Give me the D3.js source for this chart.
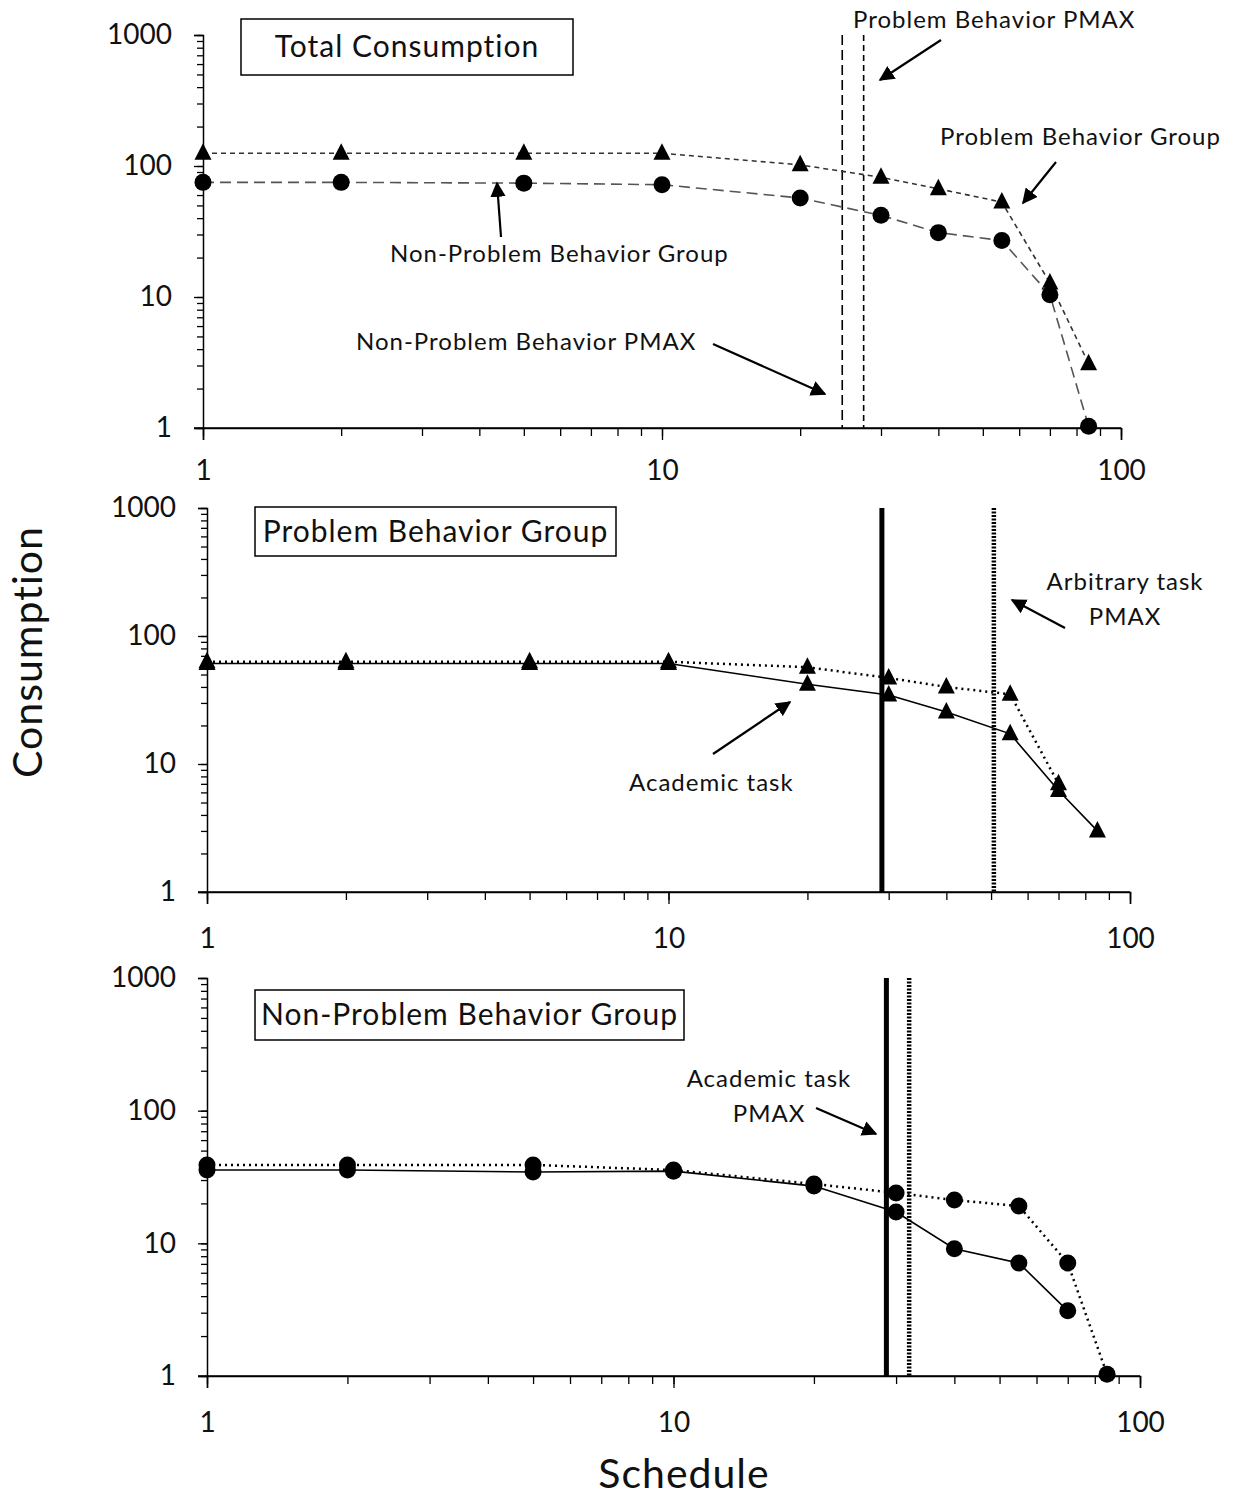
<!DOCTYPE html>
<html>
<head>
<meta charset="utf-8">
<script src="https://cdn.jsdelivr.net/npm/d3@7"></script>
<style>
  body { margin: 0; background: #fff; }
  svg text { font-family: Lato, "Open Sans", sans-serif; fill: #111; }
  .tick-label { font-size: 28px; }
  .ann { font-size: 24px; letter-spacing: 1px; }
  .boxtitle { font-size: 30px; letter-spacing: 1px; }
  .axistitle { font-size: 41px; letter-spacing: 1px; }
</style>
</head>
<body>
<svg id="chart" width="1236" height="1500"></svg>
<script>
// schedule values (x)
const schedule = [1, 2, 5, 10, 20, 30, 40, 55, 70, 85];

// Total consumption panel
const totalProblem    = [125, 125, 125, 125, 102, 82, 67, 53, 12.8, 3.1];
const totalNonProblem = [75, 75, 74, 72, 57, 42, 31, 27, 10.4, 1.03];
const totalPmax = { nonProblem: 24.7, problem: 27.5 };

// Problem behavior group panel
const probAcademic  = [61, 61, 61, 61, 42, 34.6, 25.5, 17.2, 6.2, 3.0];
const probArbitrary = [63, 63, 63, 63, 57, 47, 40, 35, 7.0, null];
const probPmax = { academic: 29, arbitrary: 50.7 };

// Non-problem behavior group panel
const nonAcademic  = [35.7, 35.7, 34.5, 35, 27, 17.2, 9.1, 7.1, 3.1, null];
const nonArbitrary = [39, 39, 39, 35.7, 28, 24, 21.2, 19.1, 7.1, 1.03];
const nonPmax = { academic: 28.6, arbitrary: 32 };

const yTicks = [1, 10, 100, 1000];
const xTicks = [1, 10, 100];

const svg = d3.select("#chart");

// arrow head marker
svg.append("defs").append("marker")
    .attr("id", "arrow").attr("viewBox", "0 0 10 10")
    .attr("refX", 9).attr("refY", 5)
    .attr("markerWidth", 7).attr("markerHeight", 7)
    .attr("markerUnits", "strokeWidth")
    .attr("orient", "auto")
    .append("path").attr("d", "M0,0 L10,5 L0,10 z").attr("fill", "#000");

function minorTicks(lo, hi){
    let t = [];
    for(let d = lo; d < hi; d *= 10){
        for(let k = 1; k < 10; k++) t.push(d*k);
    }
    t.push(hi);
    return t;
}

function drawPanel(p){
    let g = svg.append("g");
    let xScale = d3.scaleLog().domain([1, 100]).range([p.left, p.right]);
    let yScale = d3.scaleLog().domain([1, 1000]).range([p.bottom, p.top]);

    // y axis: minor ticks, then major ticks with labels
    g.append("g").attr("transform", `translate(${p.left},0)`)
        .call(d3.axisLeft(yScale).tickValues(minorTicks(1, 1000)).tickSize(6).tickFormat(""))
        .call(a => a.select(".domain").remove());
    let ya = g.append("g").attr("transform", `translate(${p.left},0)`)
        .call(d3.axisLeft(yScale).tickValues(yTicks).tickSize(9).tickPadding(22).tickFormat(d3.format("d")));
    ya.selectAll("text").attr("class", "tick-label").attr("font-size", null).attr("font-family", null);

    // x axis
    g.append("g").attr("transform", `translate(0,${p.bottom})`)
        .call(d3.axisBottom(xScale).tickValues(minorTicks(1, 100)).tickSize(8).tickFormat(""))
        .call(a => a.select(".domain").remove());
    let xa = g.append("g").attr("transform", `translate(0,${p.bottom})`)
        .call(d3.axisBottom(xScale).tickValues(xTicks).tickSize(12).tickPadding(p.xpad).tickFormat(d3.format("d")));
    xa.selectAll("text").attr("class", "tick-label").attr("font-size", null).attr("font-family", null);
    // x axis line extends a bit left of y axis
    g.append("line").attr("x1", p.left - 9).attr("x2", p.right)
        .attr("y1", p.bottom).attr("y2", p.bottom).attr("stroke", "#000").attr("stroke-width", 1.5);
    g.selectAll(".domain").attr("stroke-width", 1.5);
    g.selectAll(".tick line").attr("stroke-width", 1.3);

    // vertical PMAX lines
    p.vlines.forEach(v => {
        g.append("line").attr("x1", xScale(v.x)).attr("x2", xScale(v.x))
            .attr("y1", p.top).attr("y2", p.bottom)
            .attr("stroke", "#000").attr("stroke-width", v.width)
            .attr("stroke-dasharray", v.dash);
    });

    // series lines + markers
    p.series.forEach(s => {
        let pts = schedule.map((x, i) => ({x: x, y: s.values[i]})).filter(d => d.y != null);
        let line = d3.line().x(d => xScale(d.x)).y(d => yScale(d.y));
        g.append("path").attr("d", line(pts)).attr("fill", "none")
            .attr("stroke", s.color).attr("stroke-width", s.width)
            .attr("stroke-dasharray", s.dash);
        if(s.shape === "circle"){
            g.selectAll(null).data(pts).join("circle")
                .attr("cx", d => xScale(d.x)).attr("cy", d => yScale(d.y))
                .attr("r", 8.5).attr("fill", "#000");
        }else{
            g.selectAll(null).data(pts).join("path")
                .attr("transform", d => `translate(${xScale(d.x)},${yScale(d.y)})`)
                .attr("d", "M0,-10 L8.5,6.5 L-8.5,6.5 Z").attr("fill", "#000");
        }
    });

    // title box
    g.append("rect").attr("x", p.box[0]).attr("y", p.box[1])
        .attr("width", p.box[2]).attr("height", p.box[3])
        .attr("fill", "#fff").attr("stroke", "#000").attr("stroke-width", 1.5);
    g.append("text").attr("class", "boxtitle")
        .attr("x", p.box[0] + p.box[2]/2).attr("y", p.box[1] + p.box[3]/2 + 10)
        .attr("text-anchor", "middle").text(p.title);

    // annotations
    p.notes.forEach(n => {
        n.lines.forEach((t, i) => {
            g.append("text").attr("class", "ann").attr("x", n.x).attr("y", n.y + i*35)
                .attr("text-anchor", n.anchor || "start").text(t);
        });
    });
    p.arrows.forEach(a => {
        g.append("line").attr("x1", a[0]).attr("y1", a[1]).attr("x2", a[2]).attr("y2", a[3])
            .attr("stroke", "#000").attr("stroke-width", 2.2).attr("marker-end", "url(#arrow)");
    });
}

drawPanel({
    left: 203, right: 1121, top: 35, bottom: 428, xpad: 20,
    title: "Total Consumption", box: [241, 19, 332, 56],
    vlines: [
        {x: totalPmax.nonProblem, dash: "10,5", width: 1.6},
        {x: totalPmax.problem, dash: "6,4", width: 1.6}
    ],
    series: [
        {values: totalProblem, shape: "triangle", color: "#333", dash: "5,4", width: 1.6},
        {values: totalNonProblem, shape: "circle", color: "#555", dash: "11,6", width: 1.6}
    ],
    notes: [
        {x: 853, y: 28, lines: ["Problem Behavior PMAX"]},
        {x: 940, y: 145, lines: ["Problem Behavior Group"]},
        {x: 390, y: 262, lines: ["Non-Problem Behavior Group"]},
        {x: 356, y: 350, lines: ["Non-Problem Behavior PMAX"]}
    ],
    arrows: [[941, 40, 880, 80], [1056, 162, 1023, 203], [501, 237, 497, 183], [713, 344, 825, 394]]
});

drawPanel({
    left: 207, right: 1130, top: 508, bottom: 892, xpad: 24,
    title: "Problem Behavior Group", box: [255, 507, 361, 49],
    vlines: [
        {x: probPmax.academic, dash: null, width: 5},
        {x: probPmax.arbitrary, dash: "2,1.5", width: 4.5}
    ],
    series: [
        {values: probArbitrary, shape: "triangle", color: "#000", dash: "2,4", width: 2.5},
        {values: probAcademic, shape: "triangle", color: "#000", dash: null, width: 1.6}
    ],
    notes: [
        {x: 1125, y: 590, lines: ["Arbitrary task", "PMAX"], anchor: "middle"},
        {x: 629, y: 791, lines: ["Academic task"]}
    ],
    arrows: [[1065, 628, 1012, 600], [713, 754, 790, 702]]
});

drawPanel({
    left: 207, right: 1140, top: 978, bottom: 1376, xpad: 24,
    title: "Non-Problem Behavior Group", box: [255, 990, 429, 50],
    vlines: [
        {x: nonPmax.academic, dash: null, width: 5},
        {x: nonPmax.arbitrary, dash: "2,1.5", width: 4.5}
    ],
    series: [
        {values: nonArbitrary, shape: "circle", color: "#000", dash: "2,4", width: 2.5},
        {values: nonAcademic, shape: "circle", color: "#000", dash: null, width: 1.6}
    ],
    notes: [
        {x: 769, y: 1087, lines: ["Academic task", "PMAX"], anchor: "middle"}
    ],
    arrows: [[816, 1108, 876, 1134]]
});

// axis titles
svg.append("text").attr("class", "axistitle")
    .attr("transform", "translate(42,652) rotate(-90)")
    .attr("text-anchor", "middle").text("Consumption");
svg.append("text").attr("class", "axistitle")
    .attr("x", 684).attr("y", 1488)
    .attr("text-anchor", "middle").text("Schedule");
</script>
</body>
</html>
